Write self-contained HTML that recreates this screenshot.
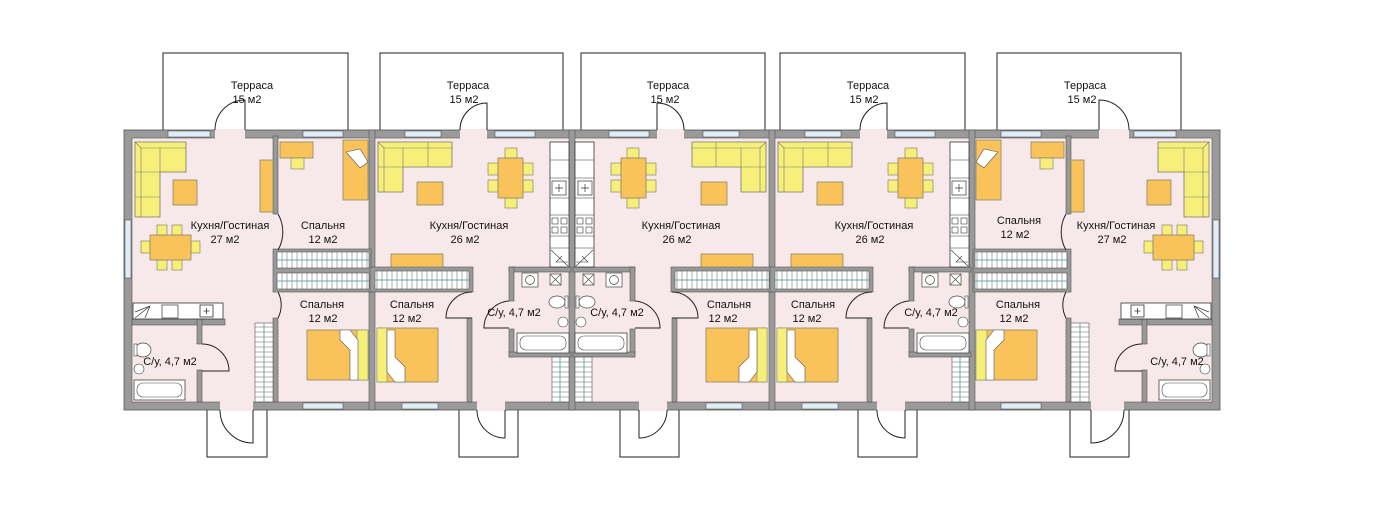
<!DOCTYPE html>
<html><head><meta charset="utf-8"><style>
html,body{margin:0;padding:0;background:#fff;width:1383px;height:519px;overflow:hidden}
text{font-family:"Liberation Sans",sans-serif;font-size:11px;fill:#111}
</style></head><body>
<svg width="1383" height="519" viewBox="0 0 1383 519" xmlns="http://www.w3.org/2000/svg">
<defs>
<pattern id="cl" width="5" height="20" patternUnits="userSpaceOnUse">
<rect width="5" height="20" fill="#fff"/><line x1="2" y1="0" x2="2" y2="20" stroke="#999" stroke-width="0.8"/>
</pattern>
<pattern id="clv" width="20" height="5" patternUnits="userSpaceOnUse">
<rect width="20" height="5" fill="#fff"/><line x1="0" y1="2" x2="20" y2="2" stroke="#999" stroke-width="0.8"/>
</pattern>
<g id="unitA">
<rect x="273" y="136" width="5" height="78" fill="#999" stroke="#555" stroke-width="0.6"/>
<rect x="273" y="318" width="5" height="84" fill="#999" stroke="#555" stroke-width="0.6"/>
<rect x="273" y="249" width="98" height="43" fill="#999" stroke="#555" stroke-width="0.6"/>
<rect x="277" y="252" width="92" height="16" fill="url(#cl)" stroke="#555" stroke-width="0.6"/>
<rect x="277" y="273" width="92" height="16" fill="url(#cl)" stroke="#555" stroke-width="0.6"/>
<line x1="277" y1="260" x2="369" y2="260" stroke="#6aa" stroke-width="1"/>
<line x1="277" y1="281" x2="369" y2="281" stroke="#6aa" stroke-width="1"/>
<path d="M278 214 A36 36 0 0 1 278 250" fill="none" stroke="#222"/>
<path d="M278 292 A28 28 0 0 1 278 318" fill="none" stroke="#222"/>
<rect x="132" y="319" width="93" height="6" fill="#999" stroke="#555" stroke-width="0.6"/>
<rect x="197" y="319" width="5" height="25" fill="#999" stroke="#555" stroke-width="0.6"/>
<rect x="197" y="370" width="5" height="32" fill="#999" stroke="#555" stroke-width="0.6"/>
<path d="M202 344 A27 27 0 0 1 229 371 L202 371" fill="none" stroke="#222"/>
<rect x="133" y="303" width="90" height="16" fill="#fff" stroke="#333" stroke-width="0.8"/>
<path d="M135 318 L150 306 M135 312 L150 306 L145 318" fill="none" stroke="#333" stroke-width="0.7"/>
<rect x="162" y="305" width="16" height="13" fill="#fff" stroke="#333" stroke-width="0.7"/>
<rect x="200" y="305" width="13" height="12" fill="#fff" stroke="#333" stroke-width="0.8"/>
<path d="M206.5 308 v6 M203.5 311 h6" stroke="#333" stroke-width="0.8"/>
<rect x="255" y="323" width="18" height="79" fill="url(#clv)" stroke="#555" stroke-width="0.6"/>
<line x1="264" y1="323" x2="264" y2="402" stroke="#6aa"/>
<path d="M135 142 H186 V172 H160 V217 H135 Z" fill="#f6f07a" stroke="#776" stroke-width="0.8"/>
<path d="M135 142 L141 148 H186 M141 148 V217 M160 148 V172 M135 172 H160 M135 197 H160" fill="none" stroke="#776" stroke-width="0.6"/>
<rect x="173" y="180" width="24" height="25" fill="#f9c25a" stroke="#886" stroke-width="0.8"/>
<rect x="260" y="160" width="13" height="52" fill="#f9c25a" stroke="#886" stroke-width="0.8"/>
<rect x="157" y="225" width="10" height="10" fill="#f6f07a" stroke="#776" stroke-width="0.6"/>
<rect x="172" y="225" width="10" height="10" fill="#f6f07a" stroke="#776" stroke-width="0.6"/>
<rect x="157" y="260" width="10" height="10" fill="#f6f07a" stroke="#776" stroke-width="0.6"/>
<rect x="172" y="260" width="10" height="10" fill="#f6f07a" stroke="#776" stroke-width="0.6"/>
<rect x="141" y="241" width="9" height="12" fill="#f6f07a" stroke="#776" stroke-width="0.6"/>
<rect x="191" y="241" width="9" height="12" fill="#f6f07a" stroke="#776" stroke-width="0.6"/>
<rect x="150" y="235" width="41" height="25" fill="#f9c25a" stroke="#886" stroke-width="0.8"/>
<rect x="280" y="142" width="33" height="16" fill="#f9c25a" stroke="#886" stroke-width="0.8"/>
<rect x="291" y="158" width="13" height="11" fill="#f6f07a" stroke="#776" stroke-width="0.6"/>
<rect x="343" y="140" width="25" height="60" fill="#f9c25a" stroke="#886" stroke-width="0.8"/>
<path d="M346 152 L360 149 L368 162 L360 168 Z" fill="#fff" stroke="#555" stroke-width="0.6"/>
<rect x="307" y="330" width="61" height="50" fill="#f9c25a" stroke="#886" stroke-width="0.8"/>
<rect x="357" y="330" width="11" height="50" fill="#f6f07a" stroke="#886" stroke-width="0.6"/>
<path d="M340 330 H350 L358 340 V380 H350 V350 L340 340 Z" fill="#fff" stroke="#555" stroke-width="0.6"/>
<ellipse cx="143" cy="350" rx="8" ry="7" fill="#fff" stroke="#444" stroke-width="0.7"/>
<rect x="134" y="344" width="3" height="12" fill="#fff" stroke="#444" stroke-width="0.6"/>
<circle cx="139" cy="369" r="5" fill="#fff" stroke="#444" stroke-width="0.6"/>
<rect x="134" y="380" width="51" height="20" fill="#fff" stroke="#444" stroke-width="0.8"/>
<rect x="137" y="383" width="45" height="14" rx="6" fill="#fff" stroke="#444" stroke-width="0.6"/>
</g>
<g id="unitB">
<rect x="370" y="267" width="103" height="25" fill="#999" stroke="#555" stroke-width="0.6"/>
<rect x="375" y="271" width="94" height="18" fill="url(#cl)" stroke="#555" stroke-width="0.6"/>
<line x1="375" y1="280" x2="469" y2="280" stroke="#6aa"/>
<rect x="391" y="254" width="52" height="13" fill="#f9c25a" stroke="#886" stroke-width="0.8"/>
<rect x="467" y="318" width="5" height="84" fill="#999" stroke="#555" stroke-width="0.6"/>
<path d="M472 292 A26 26 0 0 0 446 318 L472 318" fill="none" stroke="#222"/>
<rect x="509" y="267" width="62" height="5" fill="#999" stroke="#555" stroke-width="0.6"/>
<rect x="509" y="267" width="5" height="34" fill="#999" stroke="#555" stroke-width="0.6"/>
<rect x="509" y="329" width="5" height="28" fill="#999" stroke="#555" stroke-width="0.6"/>
<rect x="509" y="352" width="62" height="5" fill="#999" stroke="#555" stroke-width="0.6"/>
<path d="M509 301 A27 27 0 0 0 484 328 L509 328" fill="none" stroke="#222"/>
<rect x="550" y="142" width="19" height="125" fill="#fff" stroke="#333" stroke-width="0.8"/>
<path d="M550 160 H569 M550 178 H569 M550 198 H569 M550 215 H569 M550 236 H569 M550 248 H569" stroke="#333" stroke-width="0.6"/>
<rect x="552" y="181" width="14" height="14" fill="#fff" stroke="#333" stroke-width="0.7"/>
<path d="M559 184 v8 M555 188 h8" stroke="#333" stroke-width="0.7"/>
<rect x="552" y="218" width="6" height="6" fill="none" stroke="#333" stroke-width="0.6"/>
<rect x="561" y="218" width="6" height="6" fill="none" stroke="#333" stroke-width="0.6"/>
<rect x="552" y="227" width="6" height="6" fill="none" stroke="#333" stroke-width="0.6"/>
<rect x="561" y="227" width="6" height="6" fill="none" stroke="#333" stroke-width="0.6"/>
<path d="M551 250 L568 266 M562 256 L556 262 L568 262" fill="none" stroke="#333" stroke-width="0.6"/>
<rect x="552" y="357" width="17" height="45" fill="url(#clv)" stroke="#555" stroke-width="0.6"/>
<line x1="560" y1="357" x2="560" y2="402" stroke="#6aa"/>
<path d="M378 142 H452 V167 H403 V192 H378 Z" fill="#f6f07a" stroke="#776" stroke-width="0.8"/>
<path d="M378 142 L384 148 H452 M384 148 V192 M403 148 V167 M428 142 V167 M378 167 H403" fill="none" stroke="#776" stroke-width="0.6"/>
<rect x="417" y="182" width="26" height="23" fill="#f9c25a" stroke="#886" stroke-width="0.8"/>
<rect x="488" y="163" width="10" height="12" fill="#f6f07a" stroke="#776" stroke-width="0.6"/>
<rect x="488" y="180" width="10" height="12" fill="#f6f07a" stroke="#776" stroke-width="0.6"/>
<rect x="523" y="163" width="10" height="12" fill="#f6f07a" stroke="#776" stroke-width="0.6"/>
<rect x="523" y="180" width="10" height="12" fill="#f6f07a" stroke="#776" stroke-width="0.6"/>
<rect x="505" y="148" width="12" height="10" fill="#f6f07a" stroke="#776" stroke-width="0.6"/>
<rect x="505" y="198" width="12" height="10" fill="#f6f07a" stroke="#776" stroke-width="0.6"/>
<rect x="498" y="158" width="25" height="40" fill="#f9c25a" stroke="#886" stroke-width="0.8"/>
<rect x="377" y="328" width="61" height="54" fill="#f9c25a" stroke="#886" stroke-width="0.8"/>
<rect x="377" y="328" width="10" height="54" fill="#f6f07a" stroke="#886" stroke-width="0.6"/>
<path d="M387 330 H395 V357 L405 367 V382 H395 L387 372 Z" fill="#fff" stroke="#555" stroke-width="0.6"/>
<rect x="522" y="273" width="16" height="14" fill="#fff" stroke="#444" stroke-width="0.7"/>
<circle cx="530" cy="280" r="4.5" fill="none" stroke="#444" stroke-width="0.7"/>
<rect x="550" y="274" width="11" height="11" fill="#fff" stroke="#444" stroke-width="0.7"/>
<path d="M550 274 L561 285 M561 274 L550 285" stroke="#444" stroke-width="0.6"/>
<ellipse cx="557" cy="302" rx="8" ry="6" fill="#fff" stroke="#444" stroke-width="0.7"/>
<rect x="565" y="296" width="3" height="12" fill="#fff" stroke="#444" stroke-width="0.6"/>
<circle cx="563" cy="322" r="5" fill="#fff" stroke="#444" stroke-width="0.6"/>
<rect x="517" y="333" width="52" height="20" fill="#fff" stroke="#444" stroke-width="0.8"/>
<rect x="520" y="336" width="46" height="14" rx="6" fill="#fff" stroke="#444" stroke-width="0.6"/>
</g>
</defs>

<g fill="#fff" stroke="#222" stroke-width="1">
<rect x="163" y="53" width="185" height="78"/>
<rect x="380" y="53" width="183" height="78"/>
<rect x="581" y="53" width="184" height="78"/>
<rect x="780" y="53" width="185" height="78"/>
<rect x="997" y="53" width="184" height="78"/>
<rect x="207" y="409" width="60" height="48"/>
<rect x="459" y="409" width="59" height="48"/>
<rect x="620" y="409" width="59" height="48"/>
<rect x="858" y="409" width="59" height="48"/>
<rect x="1070" y="409" width="59" height="48"/>
</g>
<rect x="124" y="130" width="1096" height="280" fill="#9a9a9a" stroke="#555" stroke-width="0.8"/>
<rect x="132" y="138" width="1080" height="264" fill="#f7e9e9" stroke="#555" stroke-width="0.6"/>
<g fill="#9a9a9a" stroke="#555" stroke-width="0.6">
<rect x="369" y="130" width="6" height="280"/>
<rect x="569" y="130" width="6" height="280"/>
<rect x="769" y="130" width="6" height="280"/>
<rect x="969" y="130" width="6" height="280"/>
</g>
<use href="#unitA"/>
<use href="#unitA" transform="translate(1344,0) scale(-1,1)"/>
<use href="#unitB"/>
<use href="#unitB" transform="translate(1144,0) scale(-1,1)"/>
<use href="#unitB" transform="translate(400,0)"/>
<g fill="#dfeef6" stroke="#555" stroke-width="0.6">
<rect x="168" y="131" width="42" height="6"/><rect x="303" y="131" width="40" height="6"/>
<rect x="405" y="131" width="36" height="6"/><rect x="495" y="131" width="40" height="6"/>
<rect x="609" y="131" width="40" height="6"/><rect x="703" y="131" width="36" height="6"/>
<rect x="805" y="131" width="36" height="6"/><rect x="895" y="131" width="40" height="6"/>
<rect x="1001" y="131" width="40" height="6"/><rect x="1134" y="131" width="42" height="6"/>
<rect x="303" y="403" width="40" height="6"/><rect x="402" y="403" width="36" height="6"/>
<rect x="706" y="403" width="36" height="6"/><rect x="802" y="403" width="36" height="6"/>
<rect x="1001" y="403" width="40" height="6"/>
<rect x="125" y="220" width="6" height="58"/><rect x="1213" y="220" width="6" height="58"/>
</g>
<g fill="#f7e9e9">
<rect x="215" y="129" width="30" height="10"/><rect x="460" y="129" width="27" height="10"/>
<rect x="657" y="129" width="27" height="10"/><rect x="860" y="129" width="27" height="10"/>
<rect x="1099" y="129" width="30" height="10"/>
<rect x="220" y="401" width="33" height="10"/><rect x="477" y="401" width="28" height="10"/>
<rect x="639" y="401" width="28" height="10"/><rect x="877" y="401" width="28" height="10"/>
<rect x="1091" y="401" width="33" height="10"/>
</g>
<g fill="none" stroke="#222" stroke-width="1">
<path d="M215 130 A30 30 0 0 1 245 100 V130"/>
<path d="M460 130 A27 27 0 0 1 487 103 V130"/>
<path d="M684 130 A27 27 0 0 0 657 103 V130"/>
<path d="M860 130 A27 27 0 0 1 887 103 V130"/>
<path d="M1129 130 A30 30 0 0 0 1099 100 V130"/>
<path d="M220 410 A33 33 0 0 0 253 443 V410"/>
<path d="M477 410 A28 28 0 0 0 505 438 V410"/>
<path d="M667 410 A28 28 0 0 1 639 438 V410"/>
<path d="M877 410 A28 28 0 0 0 905 438 V410"/>
<path d="M1124 410 A33 33 0 0 1 1091 443 V410"/>
</g>
<g text-anchor="middle">
<text x="252" y="89">Терраса</text><text x="247" y="103">15 м2</text>
<text x="468" y="89">Терраса</text><text x="464" y="103">15 м2</text>
<text x="668" y="89">Терраса</text><text x="665" y="103">15 м2</text>
<text x="868" y="89">Терраса</text><text x="864" y="103">15 м2</text>
<text x="1085" y="89">Терраса</text><text x="1082" y="103">15 м2</text>
<text x="230" y="229">Кухня/Гостиная</text><text x="225" y="243">27 м2</text>
<text x="323" y="229">Спальня</text><text x="323" y="243">12 м2</text>
<text x="322" y="308">Спальня</text><text x="323" y="322">12 м2</text>
<text x="170" y="365">С/у, 4,7 м2</text>
<text x="469" y="229">Кухня/Гостиная</text><text x="465" y="243">26 м2</text>
<text x="412" y="308">Спальня</text><text x="407" y="322">12 м2</text>
<text x="514" y="316">С/у, 4,7 м2</text>
<text x="617" y="316">С/у, 4,7 м2</text>
<text x="681" y="229">Кухня/Гостиная</text><text x="677" y="243">26 м2</text>
<text x="729" y="308">Спальня</text><text x="723" y="322">12 м2</text>
<text x="813" y="308">Спальня</text><text x="807" y="322">12 м2</text>
<text x="874" y="229">Кухня/Гостиная</text><text x="870" y="243">26 м2</text>
<text x="931" y="316">С/у, 4,7 м2</text>
<text x="1019" y="224">Спальня</text><text x="1015" y="238">12 м2</text>
<text x="1018" y="308">Спальня</text><text x="1014" y="322">12 м2</text>
<text x="1116" y="229">Кухня/Гостиная</text><text x="1112" y="243">27 м2</text>
<text x="1177" y="365">С/у, 4,7 м2</text>
</g>
</svg>
</body></html>
